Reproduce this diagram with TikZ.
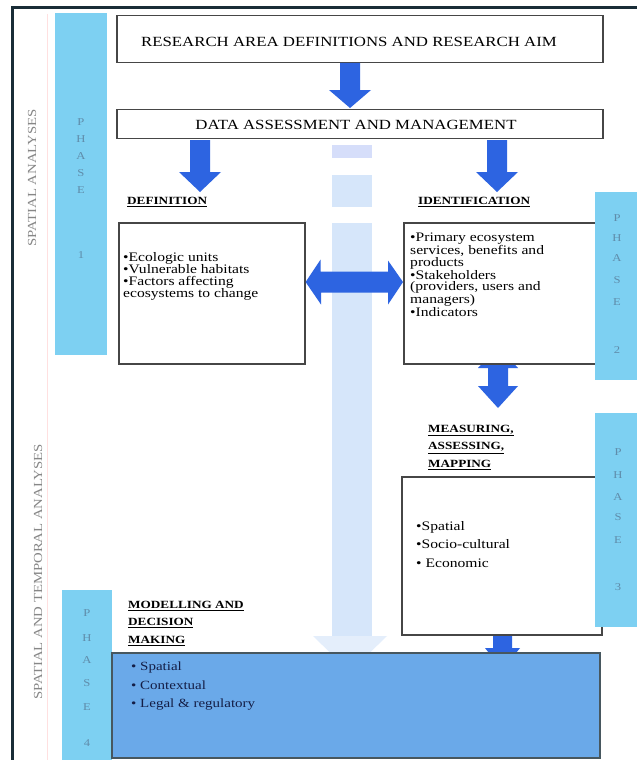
\documentclass[tikz,border=0pt]{standalone}
\usepackage{fontspec}
\setmainfont[FakeStretch=1.2]{Liberation Serif}
\definecolor{phase}{RGB}{125,208,242}
\definecolor{arrowblue}{RGB}{45,100,225}
\definecolor{stripe}{RGB}{214,230,250}
\definecolor{stripehead}{RGB}{228,238,251}
\definecolor{stripetop}{RGB}{214,222,250}
\definecolor{bottomfill}{RGB}{106,169,233}
\definecolor{framecol}{RGB}{25,45,55}
\definecolor{sidecol}{RGB}{135,135,135}
\definecolor{phasetxt}{RGB}{95,140,170}
\definecolor{boxline}{RGB}{70,70,70}
\definecolor{navytxt}{RGB}{20,30,70}
\tikzset{
  flowbox/.style={draw=boxline, line width=1.2pt, fill=white},
  phasestrip/.style={fill=phase},
  phaseletter/.style={font=\fontsize{10.5}{10}\selectfont, text=phasetxt, inner sep=0pt},
  sidelabel/.style={font=\fontsize{12.3}{12}\selectfont, text=sidecol, rotate=90, inner sep=0pt},
  headtext/.style={font=\fontsize{14}{14}\selectfont, inner sep=0pt},
  steplabel/.style={font=\bfseries\fontsize{11}{17.5}\selectfont, align=left, inner sep=0pt, anchor=north west},
  bullettext/.style={align=left, inner sep=0pt, anchor=north west},
  blockarrow/.style={fill=arrowblue},
}
% vertical block arrow: x, ytop, ybottom, headlength, shaft half width, head half width
\newcommand\vblock[6]{%
  \fill[blockarrow] ({#1-#5},{#2}) -- ({#1+#5},{#2}) -- ({#1+#5},{#3-#4}) -- ({#1+#6},{#3-#4})
    -- ({#1},{#3}) -- ({#1-#6},{#3-#4}) -- ({#1-#5},{#3-#4}) -- cycle;}
% vertical double block arrow
\newcommand\vdouble[6]{%
  \fill[blockarrow] ({#1},{#2}) -- ({#1+#6},{#2+#4}) -- ({#1+#5},{#2+#4}) -- ({#1+#5},{#3-#4})
    -- ({#1+#6},{#3-#4}) -- ({#1},{#3}) -- ({#1-#6},{#3-#4}) -- ({#1-#5},{#3-#4})
    -- ({#1-#5},{#2+#4}) -- ({#1-#6},{#2+#4}) -- cycle;}
\begin{document}
\begin{tikzpicture}[x=1pt,y=-1pt]
\useasboundingbox (0,0) rectangle (637,760);
\fill[white] (0,0) rectangle (637,760);

% outer frame lines
\draw[framecol, line width=3pt] (12,760) -- (12,8) -- (637,8);
\draw[red!12, line width=0.8pt] (47,14) -- (47,760);

% side labels
\node[sidelabel] (sideA) at (32,178) {SPATIAL ANALYSES};
\node[sidelabel] (sideB) at (38,572) {SPATIAL AND TEMPORAL ANALYSES};

% phase strips (left)
\fill[phasestrip] (55,13) rectangle (107,355);
\fill[phasestrip] (62,590) rectangle (112,760);

% central pale stripe
\fill[stripetop] (332,145) rectangle (372,158);
\fill[stripe] (332,175) rectangle (372,207);
\fill[stripe] (332,223) rectangle (372,638);
\fill[stripehead] (313,636) -- (387,636) -- (350,672) -- cycle;

% top boxes
\node[flowbox, minimum width=486pt, minimum height=47pt, inner sep=0pt] (aim) at (360,39) {};
\node[headtext] (aimtxt) at (349,42) {RESEARCH AREA DEFINITIONS AND RESEARCH AIM};
\node[flowbox, minimum width=486pt, minimum height=29pt, inner sep=0pt] (data) at (360,124) {};
\node[headtext] (datatxt) at (356,125) {DATA ASSESSMENT AND MANAGEMENT};

% block arrows from top
\vblock{350}{63}{108}{18}{10}{21}
\vblock{200}{140}{192}{20}{10}{21}
\vblock{497}{140}{192}{20}{10}{21}

% up-down arrow ID -> measuring (top part hidden behind box)
\vdouble{498}{346}{408}{22}{10}{20}
% small arrow measuring -> bottom (mostly hidden)
\vblock{502.5}{622}{670}{22}{9.5}{17.5}

% definition
\node[steplabel] (deflbl) at (127,197) {\underline{DEFINITION}};
\node[flowbox, minimum width=186pt, minimum height=141pt, inner sep=0pt] (defbox) at (212,293.5) {};
\node[bullettext, font=\fontsize{13}{12}\selectfont] (deftxt) at (123,252)
  {•Ecologic units\\•Vulnerable habitats\\•Factors affecting\\ecosystems to change};

% identification
\node[steplabel] (idlbl) at (418,197) {\underline{IDENTIFICATION}};
\node[flowbox, minimum width=196pt, minimum height=141pt, inner sep=0pt] (idbox) at (502,293.5) {};
\node[bullettext, font=\fontsize{13}{11.6}\selectfont] (idtxt) at (410,233)
  {•Primary ecosystem\\services, benefits and\\products\\•Stakeholders\\(providers, users and\\managers)\\•Indicators};

% horizontal double arrow between definition and identification
\fill[blockarrow] (defbox.east |- 0,282) -- ++(15,-22.5) -- ++(0,12) -- ({403-15},271.5) -- ++(0,-11)
  -- (403,282) -- ++(-15,22.5) -- ++(0,-12) -- ({306+15},292.5) -- ++(0,12) -- cycle;

% measuring
\node[steplabel] (measlbl) at (428,425) {\underline{MEASURING,}\\\underline{ASSESSING,}\\\underline{MAPPING}};
\node[flowbox, minimum width=200pt, minimum height=158pt, inner sep=0pt] (measbox) at (502,556) {};
\node[bullettext, font=\fontsize{13}{18.5}\selectfont] (meastxt) at (416,521)
  {•Spatial\\•Socio-cultural\\• Economic};

% phase strips (right)
\fill[phasestrip] (595,192) rectangle (637,380);
\fill[phasestrip] (595,413) rectangle (637,627);

% modelling
\node[steplabel] (modlbl) at (128,601) {\underline{MODELLING AND}\\\underline{DECISION}\\\underline{MAKING}};
\node[draw=framecol!80, line width=1.2pt, fill=bottomfill, minimum width=488pt, minimum height=105pt, inner sep=0pt] (modbox) at (356,705.5) {};
\node[bullettext, font=\fontsize{12.5}{18.5}\selectfont, text=navytxt] (modtxt) at (131,662)
  {• Spatial\\• Contextual\\• Legal \& regulatory};

% phase letters
\foreach \l/\yy [count=\i] in {P/122,H/139,A/156,S/173,E/190,1/255}
  \node[phaseletter] (pA\i) at (81,\yy) {\l};
\foreach \l/\yy [count=\i] in {P/218,H/238,A/258,S/280,E/302,2/350}
  \node[phaseletter] (pB\i) at (617,\yy) {\l};
\foreach \l/\yy [count=\i] in {P/452,H/475,A/497,S/517,E/540,3/587}
  \node[phaseletter] (pC\i) at (618,\yy) {\l};
\foreach \l/\yy [count=\i] in {P/613,H/638,A/660,S/683,E/707,4/743}
  \node[phaseletter] (pD\i) at (87,\yy) {\l};
\end{tikzpicture}
\end{document}
